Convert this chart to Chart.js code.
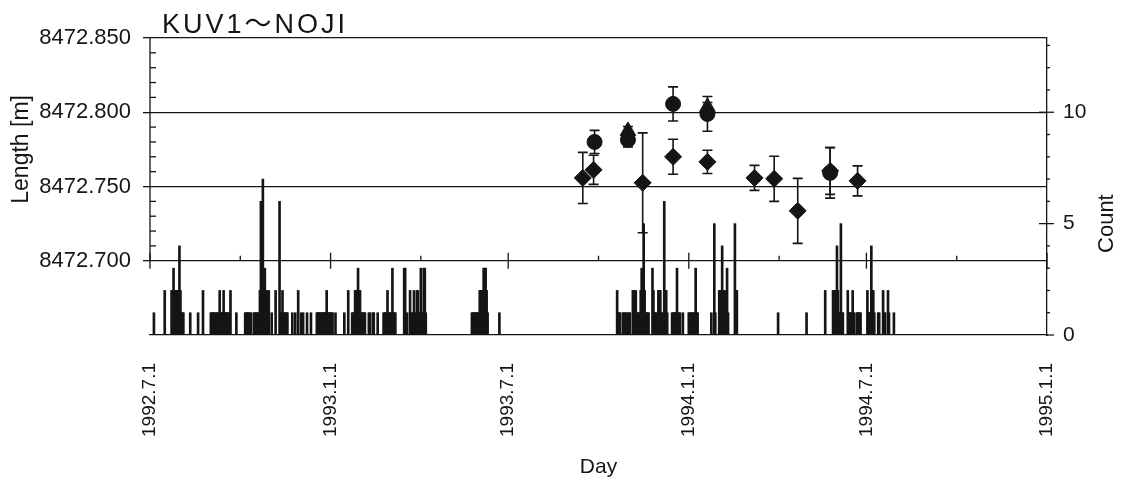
<!DOCTYPE html>
<html>
<head>
<meta charset="utf-8">
<script src="https://cdn.jsdelivr.net/npm/chart.js@4/dist/chart.umd.min.js"></script>
<style>
html,body{margin:0;padding:0;background:#fff;}
canvas{display:block;}
</style>
</head>
<body>
<canvas id="c" width="1123" height="492"></canvas>
<script>
// ---- data (x values are days since 1992-07-01) ----
const chartTitle = 'KUV1～NOJI';
const tickDays = [0, 184, 365, 549, 730, 914];
const tickLabels = ['1992.7.1', '1993.1.1', '1993.7.1', '1994.1.1', '1994.7.1', '1995.1.1'];
const minorDays = [92, 276, 457, 641, 822];
const lengthTicks = [8472.70, 8472.75, 8472.80, 8472.85];
const lengthMin = 8472.65, lengthMax = 8472.85;
const countTicks = [0, 5, 10];
const countMax = 13.333;

// length measurements: diamonds
const diamondDay = [441, 452, 502, 533, 568, 616, 636, 660, 693, 721];
const diamondVal = [8472.7558, 8472.7612, 8472.7525, 8472.7700, 8472.7666, 8472.7558, 8472.7552, 8472.7336, 8472.7605, 8472.7538];
const diamondErr = [0.0172, 0.0098, 0.0336, 0.0118, 0.0078, 0.0084, 0.0152, 0.0219, 0.0158, 0.0101];
// circles
const circleDay = [453, 487, 533, 568, 693];
const circleVal = [8472.7800, 8472.7814, 8472.8056, 8472.7989, 8472.7592];
const circleErr = [0.0078, 0.0047, 0.0115, 0.0117, 0.0170];
// triangles
const triangleDay = [487, 568];
const triangleVal = [8472.7874, 8472.8036];
const triangleErr = [0.003, 0.003];

// daily observation counts
const barDay = [4,15,22,23,24,25,26,27,28,29,30,31,32,33,34,41,49,54,
62,63,64,65,66,67,68,69,71,72,73,74,75,76,77,78,79,80,81,82,88,
97,98,99,100,101,102,103,106,107,108,109,110,111,112,113,114,115,116,117,118,119,120,121,
124,128,132,133,134,135,136,137,138,139,140,145,148,151,154,156,160,164,
170,171,172,173,174,175,176,177,178,179,180,181,182,183,184,185,186,189,198,202,
206,207,208,209,210,211,212,213,214,215,216,217,218,219,223,224,227,228,232,
238,239,240,241,242,243,244,245,246,247,248,249,250,259,260,262,
265,267,268,269,270,271,272,273,274,275,276,277,278,279,280,281,
328,329,330,331,332,333,334,335,336,337,338,339,340,341,342,343,344,356,
476,477,478,479,482,483,484,485,487,488,489,
492,493,494,495,496,497,498,499,500,501,502,503,504,505,506,507,508,
512,513,514,515,516,518,519,520,521,522,524,525,526,527,
532,533,534,535,536,537,538,539,540,543,549,550,551,552,553,554,555,556,557,558,
572,575,576,580,581,582,583,584,585,586,587,588,589,596,597,598,640,669,688,
696,697,698,699,700,701,702,703,704,705,706,711,712,713,714,715,716,717,
720,721,722,723,724,731,732,733,734,735,736,737,738,742,743,747,748,749,752,753,758];
const barCount = [1,2,2,2,3,2,2,2,2,2,4,2,1,1,1,1,1,2,
1,1,1,1,1,1,1,1,2,1,1,1,2,1,1,1,1,1,1,2,1,
1,1,1,1,1,1,1,1,1,1,1,1,1,2,6,2,7,2,3,1,2,1,2,
1,2,6,1,1,2,1,1,1,1,1,1,1,2,1,1,1,1,
1,1,1,1,1,1,1,1,1,1,2,1,1,1,1,1,1,1,1,2,
1,1,1,2,2,2,3,2,2,1,1,1,1,1,1,1,1,1,1,
1,1,1,1,2,1,1,1,1,3,1,1,1,3,3,1,
2,1,1,2,1,1,2,2,1,1,3,1,1,3,3,1,
1,1,1,1,1,1,1,1,2,2,2,2,3,3,3,2,1,1,
2,1,1,1,1,1,1,1,1,1,1,
2,2,1,2,1,1,1,1,2,3,2,5,2,1,1,1,1,
3,2,1,1,1,2,2,2,1,1,6,2,2,1,
1,1,1,1,1,3,1,1,1,1,1,1,1,1,1,1,1,3,1,1,
1,5,1,2,2,1,4,2,1,2,1,3,1,5,2,2,1,1,2,
2,2,2,2,4,2,1,1,5,1,1,2,1,1,1,1,2,1,
1,1,1,1,1,2,1,1,1,4,2,2,1,1,1,2,1,1,2,1,1];

const FONT = "'Liberation Sans', Arial, Helvetica, 'Noto Sans CJK JP', sans-serif";
const INK = '#151515';

const errorBars = {
  id: 'errorBars',
  afterDatasetsDraw(chart) {
    const ctx = chart.ctx, xs = chart.scales.x, ys = chart.scales.y;
    chart.data.datasets.forEach(ds => {
      if (!ds.errors) return;
      ctx.save();
      ctx.strokeStyle = INK; ctx.lineWidth = 1.6;
      ds.data.forEach((p, j) => {
        const e = ds.errors[j];
        const px = xs.getPixelForValue(p.x);
        const yt = ys.getPixelForValue(p.y + e), yb = ys.getPixelForValue(p.y - e);
        ctx.beginPath();
        ctx.moveTo(px, yt); ctx.lineTo(px, yb);
        ctx.moveTo(px - 5, yt); ctx.lineTo(px + 5, yt);
        ctx.moveTo(px - 5, yb); ctx.lineTo(px + 5, yb);
        ctx.stroke();
      });
      ctx.restore();
    });
  }
};

const decor = {
  id: 'decor',
  afterDraw(chart) {
    const ctx = chart.ctx, a = chart.chartArea;
    const xs = chart.scales.x, ys = chart.scales.y, cs = chart.scales.count;
    ctx.save();
    ctx.strokeStyle = INK; ctx.lineWidth = 1.3;
    const ln = (x1, y1, x2, y2) => { ctx.beginPath(); ctx.moveTo(x1, y1); ctx.lineTo(x2, y2); ctx.stroke(); };
    const y700 = ys.getPixelForValue(lengthTicks[0]);
    // left axis line (only labelled part)
    ln(a.left, a.top, a.left, y700);
    // left minor ticks every 0.01
    for (let k = 1; k < 15; k++) {
      if (k % 5 === 0) continue;
      const py = ys.getPixelForValue(lengthTicks[0] + k * 0.01);
      ln(a.left, py, a.left + 6, py);
    }
    // date ticks on the 8472.700 line
    tickDays.forEach(d => { const px = xs.getPixelForValue(d); ln(px, y700 - 8, px, y700 + 8); });
    minorDays.forEach(d => { const px = xs.getPixelForValue(d); ln(px, y700 - 5, px, y700); });
    // right axis ticks
    countTicks.forEach(c => {
      const py = cs.getPixelForValue(c);
      ln(c === 0 ? a.right : a.right - 8, py, a.right + 7, py);
    });
    for (let c = 1; c < 14; c++) {
      if (countTicks.includes(c)) continue;
      const py = cs.getPixelForValue(c);
      if (py < a.top) continue;
      ln(a.right, py, a.right + 3, py);
    }
    // texts
    ctx.fillStyle = INK;
    ctx.font = '27px ' + FONT;
    ctx.textAlign = 'left'; ctx.textBaseline = 'alphabetic';
    try { ctx.letterSpacing = '3px'; } catch (e) {}
    ctx.fillText(chartTitle, a.left + 12, 33);
    try { ctx.letterSpacing = '0px'; } catch (e) {}
    // Length [m]
    ctx.font = '23px ' + FONT;
    ctx.textAlign = 'center'; ctx.textBaseline = 'middle';
    ctx.save();
    ctx.translate(22, (a.top + y700) / 2);
    ctx.rotate(-Math.PI / 2);
    ctx.fillText('Length [m]', 0, 0);
    ctx.restore();
    ctx.font = '22px ' + FONT;
    ctx.save();
    ctx.translate(1107, cs.getPixelForValue(5));
    ctx.rotate(-Math.PI / 2);
    ctx.fillText('Count', 0, 0);
    ctx.restore();
    ctx.restore();
  }
};

const ctx = document.getElementById('c').getContext('2d');
new Chart(ctx, {
  type: 'scatter',
  data: {
    datasets: [
      {
        type: 'scatter', label: 'diamond', order: 1,
        data: diamondDay.map((d, i) => ({ x: d, y: diamondVal[i] })),
        errors: diamondErr,
        pointStyle: 'rectRot', pointRadius: 8.5,
        backgroundColor: INK, borderColor: INK, borderWidth: 1,
        xAxisID: 'x', yAxisID: 'y'
      },
      {
        type: 'scatter', label: 'circle', order: 1,
        data: circleDay.map((d, i) => ({ x: d, y: circleVal[i] })),
        errors: circleErr,
        pointStyle: 'circle', pointRadius: 7.5,
        backgroundColor: INK, borderColor: INK, borderWidth: 1,
        xAxisID: 'x', yAxisID: 'y'
      },
      {
        type: 'scatter', label: 'triangle', order: 1,
        data: triangleDay.map((d, i) => ({ x: d, y: triangleVal[i] })),
        errors: triangleErr,
        pointStyle: 'triangle', pointRadius: 9,
        backgroundColor: INK, borderColor: INK, borderWidth: 1,
        xAxisID: 'x', yAxisID: 'y'
      },
      {
        type: 'bar', label: 'count', order: 3,
        data: barDay.map((d, i) => ({ x: d, y: barCount[i] })),
        backgroundColor: INK, borderWidth: 0,
        barThickness: 2,
        xAxisID: 'x', yAxisID: 'count'
      }
    ]
  },
  options: {
    responsive: false,
    devicePixelRatio: 1,
    animation: false,
    events: [],
    layout: { padding: { top: 38, left: 0, right: 0, bottom: 0 } },
    plugins: { legend: { display: false }, tooltip: { enabled: false }, title: { display: false } },
    scales: {
      x: {
        type: 'linear', position: 'bottom', offset: false,
        min: tickDays[0], max: tickDays[tickDays.length - 1],
        afterBuildTicks: s => { s.ticks = tickDays.map(v => ({ value: v })); },
        afterFit: s => { s.height = 157; },
        grid: { display: false, offset: false },
        border: { display: true, color: INK, width: 1.3 },
        ticks: {
          autoSkip: false, minRotation: 90, maxRotation: 90, padding: 20,
          color: INK, font: { family: FONT, size: 19 },
          callback: (v, i) => tickLabels[i]
        },
        title: { display: true, text: 'Day', color: INK, font: { family: FONT, size: 21 }, padding: { top: 0, bottom: 12 } }
      },
      y: {
        type: 'linear', position: 'left',
        min: lengthMin, max: lengthMax,
        afterBuildTicks: s => { s.ticks = lengthTicks.map(v => ({ value: v })); },
        afterFit: s => { s.width = 150; },
        grid: { display: true, color: INK, lineWidth: 1.3, drawTicks: true, tickLength: 7, tickColor: INK },
        border: { display: false },
        ticks: { padding: 12, color: INK, font: { family: FONT, size: 22 }, callback: v => v.toFixed(3) }
      },
      count: {
        type: 'linear', position: 'right',
        min: 0, max: countMax,
        afterBuildTicks: s => { s.ticks = countTicks.map(v => ({ value: v })); },
        afterFit: s => { s.width = 76; },
        grid: { display: false },
        border: { display: true, color: INK, width: 1.3 },
        ticks: { padding: 8, color: INK, font: { family: FONT, size: 21 } }
      }
    }
  },
  plugins: [errorBars, decor]
});
</script>
</body>
</html>
